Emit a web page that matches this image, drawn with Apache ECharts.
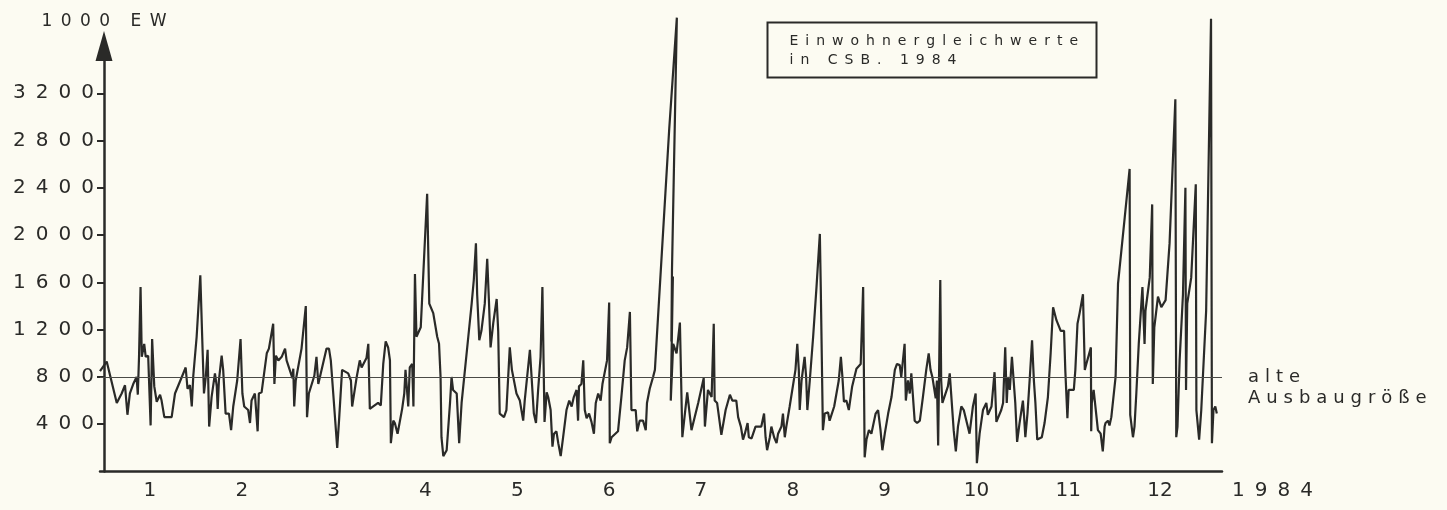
<!DOCTYPE html>
<html>
<head>
<meta charset="utf-8">
<script src="https://cdn.jsdelivr.net/npm/echarts@6/dist/echarts.min.js"></script>
<style>
html,body{margin:0;padding:0;background:#fcfbf2;}
#chart{width:1447px;height:510px;}
</style>
</head>
<body>
<div id="chart"></div>
<script>
// ---- data (day of year 1984, value in 1000 EW) ----
const days = [
0,2.2,5.5,7.1,8.2,9.0,9.8,10.9,12.0,12.4,12.8,13.3,13.7,14.5,15.0,15.8,16.6,17.1,17.8,18.6,19.7,20.2,21.1,23.5,24.6,27.0,28.1,28.7,29.5,30.1,30.6,31.7,32.9,33.5,34.1,34.7,35.3,35.8,36.6,37.2,37.7,38.3,38.6,39.0,39.9,40.4,41.2,42.3,43.0,43.7,45.0,46.1,46.7,47.3,48.6,49.2,49.7,50.8,51.7,52.1,53.0,54.7,55.4,56.8,57.2,57.7,58.5,59.6,60.7,61.2,62.6,63.1,63.4,63.7,64.2,66.1,67.5,67.9,68.5,70.3,71.0,71.6,
74.3,75.1,75.7,76.5,77.8,78.4,79.4,81.4,82.3,82.7,84.2,85.2,85.8,87.4,88.0,88.5,91.2,92.1,92.9,93.7,94.5,95.1,95.4,96.2,96.7,97.6,99.1,99.8,100.2,101.1,101.6,102.4,102.8,103.3,103.8,105.2,
107.3,108.0,109.3,110.6,111.2,111.7,112.0,112.6,113.7,114.8,115.3,115.8,117.0,117.8,118.6,120.8,121.9,122.6,123.3,123.7,124.4,125.1,126.2,127.0,127.6,128.1,129.0,130.1,130.6,131.1,132.5,133.3,134.4,135.1,136.6,137.7,138.8,139.3,141.0,
142.3,143.0,143.7,144.5,145.1,145.8,146.5,147.0,147.8,148.4,148.9,149.7,150.3,151.1,151.9,153.0,153.9,154.7,155.4,156.3,156.8,157.1,157.9,158.5,159.0,159.6,160.4,161.2,162.0,162.6,163.4,164.2,164.8,166.3,167.0,167.2,167.8,169.9,171.0,172.1,172.9,173.8,174.3,175.7,176.2,177.0,178.1,179.0,179.4,180.3,181.4,182.0,182.5,
186.7,189.2,187.6,187.4,187.9,187.2,188.0,189.1,190.2,191.0,192.6,194.0,196.2,198.0,198.4,199.4,200.6,201.3,201.6,202.4,203.8,205.2,206.6,207.4,208.7,209.3,
210.2,210.9,211.5,212.4,212.8,213.7,215.0,216.9,217.8,218.3,218.8,219.7,220.2,221.1,221.9,222.4,223.5,224.0,224.6,225.1,226.2,228.1,228.7,229.2,229.5,230.1,231.1,231.6,232.0,232.8,233.9,235.0,236.1,236.4,237.1,237.7,238.8,239.3,240.8,242.3,243.0,243.5,244.0,244.8,245.6,246.7,248.1,249.5,250.3,
250.8,251.4,252.2,253.0,253.5,254.4,255.2,256.0,256.6,257.4,258.5,259.6,260.7,261.4,262.3,262.8,263.9,264.3,265.0,265.6,266.1,267.2,268.0,268.9,269.9,271.0,271.8,272.4,273.0,274.1,274.5,274.9,275.6,275.9,276.3,278.1,278.7,280.0,280.7,281.4,282.5,283.3,285.2,286.3,287.2,287.6,288.5,289.6,290.7,
291.2,292.4,293.4,294.0,295.6,296.2,296.9,297.4,297.8,298.4,299.1,300.2,300.8,301.6,302.7,303.1,303.5,304.2,304.9,305.7,306.3,306.8,307.4,308.9,309.8,310.9,311.8,312.6,313.7,315.1,316.2,316.6,317.3,317.7,319.4,319.9,320.6,321.3,322.4,323.0,323.5,325.0,325.1,325.3,325.9,327.3,328.2,328.9,329.5,329.8,330.6,331.1,331.7,
333.1,333.9,336.1,337.7,337.9,338.8,339.3,339.9,340.7,341.9,342.6,342.9,344.3,345.1,345.3,345.8,347.0,348.1,349.5,350.8,352.7,353.0,353.4,354.1,355.2,356.0,356.2,356.6,357.9,359.4,359.6,360.5,361.2,362.8,364.4,364.7,365.2,365.8,366.3
];
const values = [
850,930,580,660,730,480,660,740,800,650,970,1560,970,1080,970,980,390,1120,720,590,650,600,460,460,660,810,880,700,730,550,810,1140,1660,1150,660,800,1030,380,630,740,830,720,530,770,980,860,490,490,350,550,770,1120,660,550,520,410,600,660,340,660,670,1000,1040,1250,740,980,940,970,1040,940,830,790,870,550,770,1040,1400,460,660,810,970,740,
1040,1040,940,660,200,430,860,830,770,550,800,940,880,960,1080,530,580,560,910,1100,1050,940,240,430,410,320,530,660,860,550,880,910,550,1670,1140,1220,
2350,1420,1340,1140,1080,800,290,130,180,580,800,690,660,240,580,1140,1420,1620,1930,1500,1110,1190,1420,1800,1420,1050,1260,1460,1190,490,460,520,1050,860,660,600,430,600,1030,
490,410,690,970,1560,420,670,630,520,210,320,340,240,130,290,520,600,550,630,690,430,720,740,940,520,450,490,420,320,580,660,600,740,940,1430,240,290,340,630,940,1050,1350,520,520,340,430,430,350,580,700,800,860,1080,
2900,3840,1700,1100,1650,600,1080,1000,1260,290,670,350,580,790,380,690,630,1250,600,580,310,520,650,600,600,460,
380,270,320,410,290,280,380,380,490,290,180,290,380,290,240,320,380,490,290,380,550,860,1080,860,520,770,970,800,520,770,1140,1560,2010,1560,350,490,500,430,550,770,970,800,590,600,520,720,870,910,1560,
120,270,350,320,380,490,520,350,180,320,490,630,860,910,900,800,1080,600,770,660,830,430,410,430,630,860,1000,860,800,620,770,220,1620,770,580,720,830,350,170,380,550,520,320,550,660,70,320,520,580,
480,550,840,420,520,580,1050,580,800,690,970,580,250,410,600,460,290,490,770,1110,770,580,270,290,410,630,1000,1390,1280,1190,1190,860,450,690,690,860,1250,1340,1500,860,910,1050,340,580,690,350,320,170,380,410,430,390,460,
800,1590,2150,2560,480,290,380,660,1080,1560,1080,1360,1640,2260,740,1220,1480,1390,1450,1930,3150,290,380,940,1500,2400,690,1420,1640,2430,520,270,520,1360,3830,240,520,550,490
];
const months = ['1','2','3','4','5','6','7','8','9','10','11','12'];
const yTicks = [400, 800, 1200, 1600, 2000, 2400, 2800, 3200];
const oldCapacity = 800;
const yearLabel = '1984';
const unitLabel = '1000 EW';
const boxLines = ['Einwohnergleichwerte', 'in CSB. 1984'];
const capacityLabel = ['alte', 'Ausbaugröße'];

const INK = '#2a2a28';
const FONT = 'DejaVu Sans';
const sp = (s, gap) => s.split('').join(gap);

const chart = echarts.init(document.getElementById('chart'), null, {renderer: 'canvas'});
const seriesData = days.map((d, i) => [d, values[i]]);

chart.setOption({
  backgroundColor: '#fcfbf2',
  animation: false,
  grid: [
    {left: 100, right: 225, top: 46, bottom: 38.5},
    {left: 104, right: 241, top: 46, bottom: 38.5}
  ],
  xAxis: [
    {
      type: 'value', gridIndex: 0, min: 0, max: 368,
      axisLine: {show: true, onZero: false, lineStyle: {color: INK, width: 2.5}},
      axisTick: {show: false}, axisLabel: {show: false}, splitLine: {show: false}
    },
    {
      type: 'category', gridIndex: 1, data: months, boundaryGap: true,
      axisLine: {show: false}, axisTick: {show: false}, splitLine: {show: false},
      axisLabel: {show: true, margin: 9, fontSize: 20, fontFamily: FONT, color: INK},
      name: sp(yearLabel, '\u2002'), nameLocation: 'end', nameGap: 26,
      nameTextStyle: {fontSize: 20, fontFamily: FONT, color: INK, verticalAlign: 'top', padding: [9, 0, 0, 0]}
    }
  ],
  yAxis: [
    {
      type: 'value', gridIndex: 0, min: 0, max: 3600, interval: 400, offset: -4,
      axisLine: {show: true, onZero: false, symbol: ['none', 'triangle'], symbolSize: [17, 30],
                 lineStyle: {color: INK, width: 2.5}},
      axisTick: {show: true, length: 7, customValues: yTicks, lineStyle: {color: INK, width: 2}},
      axisLabel: {show: true, customValues: yTicks, margin: 10, fontSize: 20, fontFamily: FONT, color: INK,
                  formatter: v => sp(String(v), '\u2002')},
      splitLine: {show: false},
      name: sp(unitLabel.replace(' ', ''), '\u2002').replace('0\u2002E', '0\u2002\u2009\u2002E'),
      nameLocation: 'end', nameGap: 16,
      nameTextStyle: {fontSize: 17, fontFamily: FONT, color: INK}
    },
    {type: 'value', gridIndex: 1, show: false}
  ],
  series: [{
    type: 'line', xAxisIndex: 0, yAxisIndex: 0,
    data: seriesData, showSymbol: false, clip: false,
    lineStyle: {color: INK, width: 2.2},
    markLine: {
      silent: true, symbol: 'none',
      lineStyle: {color: '#4a4a46', width: 1.2, type: 'solid'},
      label: {
        show: true, position: 'end', distance: 26,
        formatter: '\n' + capacityLabel.map(t => sp(t, '\u2004')).join('\n'),
        fontSize: 18, fontFamily: FONT, color: INK, lineHeight: 21, align: 'left'
      },
      data: [{yAxis: oldCapacity}]
    }
  }],
  graphic: [{
    type: 'group', left: 765, top: 20,
    children: [
      {type: 'rect', shape: {x: 0, y: 0, width: 329, height: 55},
       style: {fill: 'none', stroke: INK, lineWidth: 2}},
      {type: 'text', style: {text: sp(boxLines[0], '\u2002'), x: 22, y: 19, fontSize: 14, fontFamily: FONT,
        fill: INK, verticalAlign: 'middle'}},
      {type: 'text', style: {text: sp(boxLines[1], '\u2002'), x: 22, y: 38, fontSize: 14, fontFamily: FONT,
        fill: INK, verticalAlign: 'middle'}}
    ]
  }]
});
</script>
</body>
</html>
